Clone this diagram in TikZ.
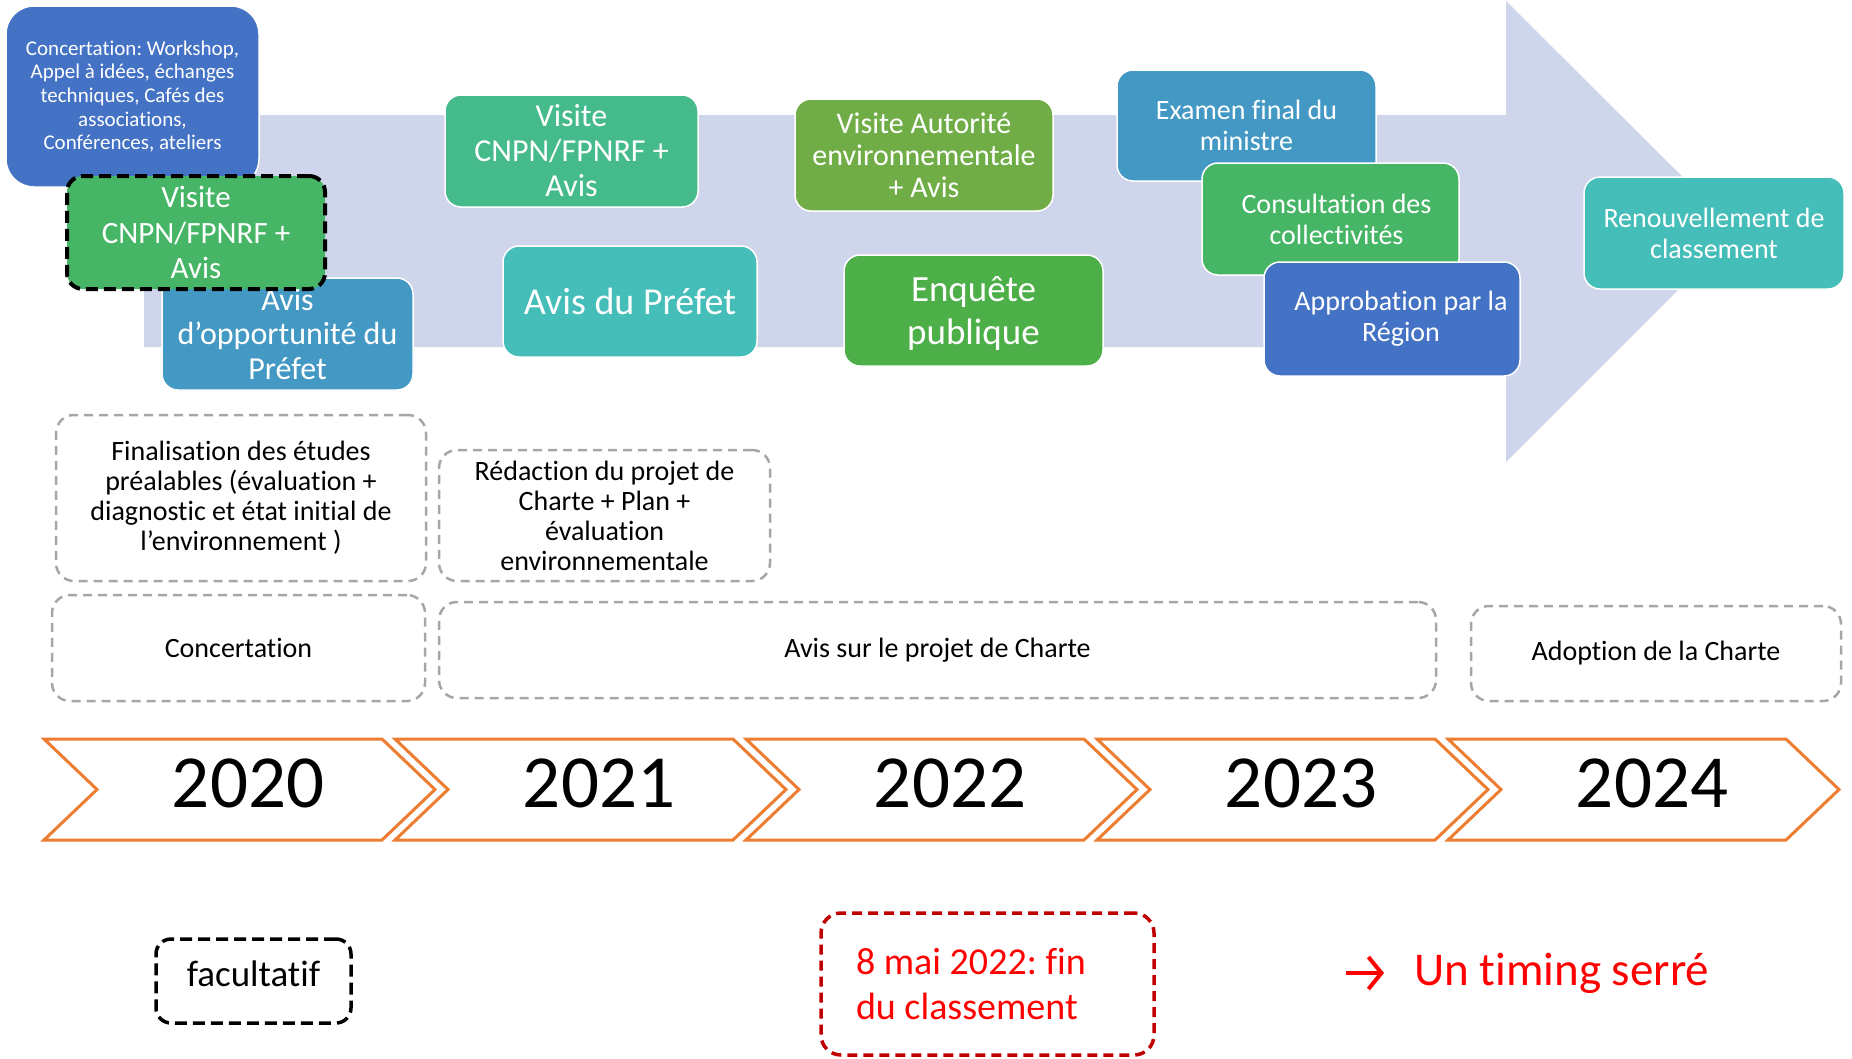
\documentclass[tikz,border=0pt]{standalone}
\usepackage{fontspec}
\setmainfont{Carlito}[Ligatures={NoCommon,NoRequired}]
\usetikzlibrary{arrows.meta}
\definecolor{bgarrow}{HTML}{CFD5EA}
\definecolor{royal}{HTML}{4472C4}
\definecolor{steel}{HTML}{4499C4}
\definecolor{seagreen}{HTML}{45BA8B}
\definecolor{leaf}{HTML}{47B566}
\definecolor{olive}{HTML}{70AD47}
\definecolor{grass}{HTML}{4DAF47}
\definecolor{teal}{HTML}{45BDB8}
\definecolor{greydash}{HTML}{A6A6A6}
\definecolor{chevron}{HTML}{ED7D31}
\definecolor{darkred}{HTML}{C00000}
\newcommand{\fsz}[2]{\fontsize{#1}{#2}\selectfont}
\frenchspacing

\begin{document}
\begin{tikzpicture}[
    x=1pt, y=-1pt,
    stage/.style={
        rectangle,
        rounded corners=16pt,
        draw=white,
        line width=1.5pt,
        text=white,
        align=center,
        inner sep=0pt,
    },
    phase/.style={
        rectangle,
        rounded corners=18pt,
        draw=greydash,
        line width=2.5pt,
        dash pattern=on 9pt off 6pt,
        align=center,
        inner sep=0pt,
        font=\fsz{28}{30},
    },
    optional/.style={
        draw=black,
        line width=4pt,
        dash pattern=on 12pt off 6pt,
    },
    chev/.style={draw=chevron, line width=3pt, fill=white},
    year/.style={font=\fsz{75}{85}, inner sep=0pt},
]
\useasboundingbox (0,0) rectangle (1852,1058);

% background arrow
\fill[bgarrow] (144,115) -- (1506,115) -- (1506,1) -- (1737,231)
    -- (1506,462) -- (1506,347) -- (144,347) -- cycle;

% phases
\node[phase, minimum width=370pt, minimum height=166pt] (finalis) at (241,498)
    {Finalisation des études\\préalables (évaluation +\\diagnostic et état initial de\\l’environnement )};
\node[phase, minimum width=331pt, minimum height=131pt] (redac) at (604.5,515.5)
    {Rédaction du projet de\\Charte + Plan +\\évaluation\\environnementale};
\node[phase, minimum width=373pt, minimum height=106pt] (concph) at (238.5,648) {Concertation};
\node[phase, minimum width=997pt, minimum height=96pt] (avisch) at (937.5,650) {Avis sur le projet de Charte};
\node[phase, minimum width=370pt, minimum height=95pt] (adopt) at (1656,653.5) {Adoption de la Charte};

% timeline
\foreach \yr [count=\i from 0] in {2020,2021,2022,2023,2024} {
    \pgfmathsetmacro{\L}{44+351*\i}
    \draw[chev] (\L,739) -- ++(338,0) -- ++(53,50.5) -- ++(-53,50.5)
        -- ++(-338,0) -- ++(53,-50.5) -- cycle;
    \node[year] (y\yr) at (\L+204,783) {\yr};
}

% steps
\node[stage, fill=royal, rounded corners=28pt, minimum width=253pt, minimum height=181pt,
    font=\fsz{21}{23.7}] (conc) at (132.5,96.5)
    {Concertation: Workshop,\\Appel à idées, échanges\\techniques, Cafés des\\associations,\\Conférences, ateliers};
\node[stage, fill=steel, minimum width=251pt, minimum height=112pt, font=\fsz{32}{34.5}]
    (avisopp) at (287.5,334) {Avis\\d’opportunité du\\Préfet};
\node[stage, optional, fill=leaf, minimum width=258pt, minimum height=113pt, font=\fsz{31}{35.5}]
    (visa) at (196,232.5) {Visite\\CNPN/FPNRF +\\Avis};
\node[stage, fill=seagreen, minimum width=253pt, minimum height=112pt, font=\fsz{32}{35}]
    (visb) at (571.5,151) {Visite\\CNPN/FPNRF +\\Avis};
\node[stage, fill=teal, minimum width=254pt, minimum height=111pt, font=\fsz{38}{43}]
    (avispref) at (630,301.5) {Avis du Préfet};
\node[stage, fill=olive, minimum width=258pt, minimum height=112pt, font=\fsz{30}{32}]
    (visae) at (924,155) {Visite Autorité\\environnementale\\+ Avis};
\node[stage, fill=grass, minimum width=259pt, minimum height=111pt, font=\fsz{37}{43},
    text depth=0pt] (enq) at (973.5,310.5) {Enquête\\publique};
\node[stage, fill=steel, minimum width=259pt, minimum height=111pt, font=\fsz{28}{31}]
    (exam) at (1246.5,125.5) {Examen final du\\ministre};
\node[stage, fill=leaf, minimum width=257pt, minimum height=112pt, font=\fsz{28}{31}]
    (consult) at (1330.5,219) {\hspace*{12pt}Consultation des\\\hspace*{12pt}collectivités};
\node[stage, fill=royal, minimum width=256pt, minimum height=114pt, font=\fsz{28}{31}]
    (approb) at (1392,319) {\hspace*{18pt}Approbation par la\\\hspace*{18pt}Région};
\node[stage, fill=teal, minimum width=260pt, minimum height=112pt, font=\fsz{28}{31}]
    (renouv) at (1714,233) {Renouvellement de\\classement};

% legend
\node[optional, line width=3.5pt, rounded corners=15pt, minimum width=195pt, minimum height=84pt,
    font=\fsz{37}{40}, inner sep=0pt, text depth=14pt] (facult) at (253.5,981) {facultatif};
\node[draw=darkred, line width=3.5pt, dash pattern=on 10pt off 6pt, rounded corners=20pt,
    minimum width=333pt, minimum height=142pt, text width=263pt, align=flush left, inner sep=0pt,
    text=red, font=\fsz{38}{45}] (finclass) at (987.5,984) {8 mai 2022: fin\\du classement};
\node[anchor=west, text=red, font=\fsz{47}{50}, inner sep=0pt] (timing) at (1414,973) {Un timing serré};
\coordinate (tarrow) at (1346,973);
\draw[red, line width=4pt, -{Straight Barb[length=13pt, width=32pt]}, shorten >=30pt]
    (tarrow) -- (timing.west);

\end{tikzpicture}
\end{document}
